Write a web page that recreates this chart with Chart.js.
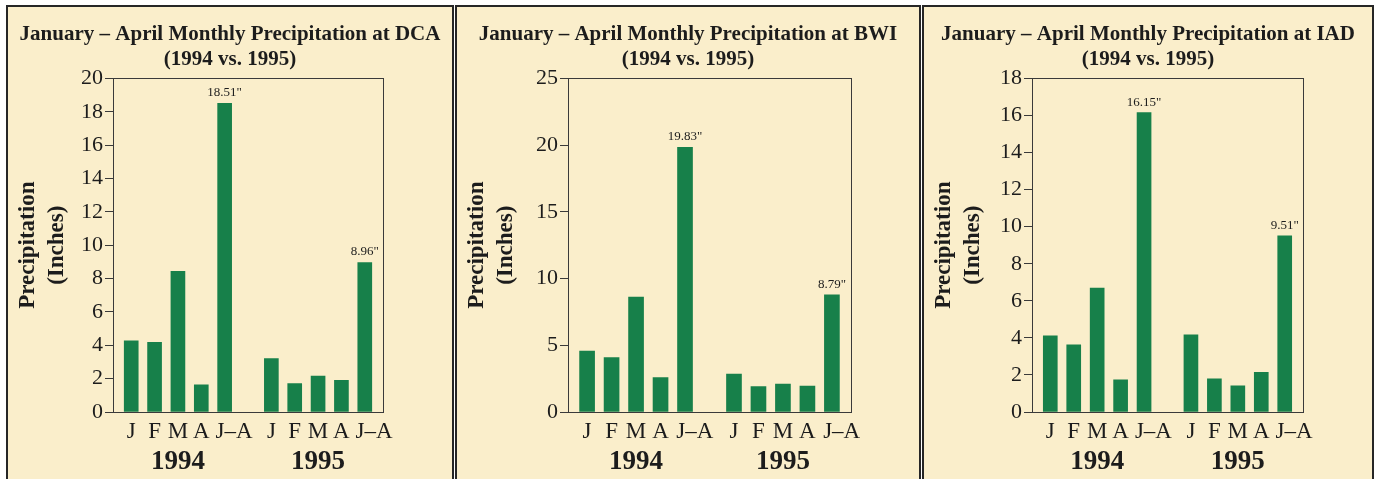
<!DOCTYPE html>
<html>
<head>
<meta charset="utf-8">
<script src="https://cdn.jsdelivr.net/npm/chart.js"></script>
<style>
  html, body { margin: 0; padding: 0; background: #ffffff; }
  body { width: 1374px; height: 479px; position: relative; overflow: hidden; }
  .panel { position: absolute; top: 5px; height: 480px; box-sizing: border-box;
           border: 2px solid #262626; background: #faeecb; }
  .panel canvas { position: absolute; left: 0; top: 0; }
</style>
</head>
<body>
<div class="panel" id="p0"><canvas id="c0"></canvas></div>
<div class="panel" id="p1"><canvas id="c1"></canvas></div>
<div class="panel" id="p2"><canvas id="c2"></canvas></div>

<script>
// categories
const months = ['J', 'F', 'M', 'A', 'J–A'];
const years = ['1994', '1995'];
const stations = ['DCA', 'BWI', 'IAD'];

// precipitation in inches, Jan, Feb, Mar, Apr, Jan-Apr total
const dca1994 = [4.27, 4.18, 8.43, 1.63, 18.51];
const dca1995 = [3.20, 1.70, 2.15, 1.90, 8.96];
const bwi1994 = [4.56, 4.07, 8.62, 2.58, 19.83];
const bwi1995 = [2.85, 1.90, 2.10, 1.94, 8.79];
const iad1994 = [4.11, 3.63, 6.68, 1.74, 16.15];
const iad1995 = [4.17, 1.79, 1.41, 2.14, 9.51];

// y axis ticks
const yTickMax = [20, 25, 18];
const yTickStep = [2, 5, 2];

const seriesByStation = [[dca1994, dca1995], [bwi1994, bwi1995], [iad1994, iad1995]];

// panel placement (page px) and plot box inside each canvas
const panels = [
  { left: 6,   width: 448, plotLeft: 105, plotRight: 375 },
  { left: 455, width: 466, plotLeft: 111, plotRight: 394 },
  { left: 922, width: 452, plotLeft: 108, plotRight: 379 }
];

const serif = "'Liberation Serif', 'Times New Roman', serif";
const ink = '#1c1c1c';
const barGreen = '#17804a';

// box round the plot area
const frame = {
  id: 'frame',
  afterDraw(chart) {
    const a = chart.chartArea, ctx = chart.ctx;
    ctx.save();
    ctx.strokeStyle = '#3a3a3a';
    ctx.lineWidth = 1;
    ctx.strokeRect(Math.round(a.left) + 0.5, Math.round(a.top) + 0.5,
                   Math.round(a.right - a.left), Math.round(a.bottom - a.top));
    ctx.restore();
  }
};

// value labels over the Jan-Apr totals
const totals = {
  id: 'totals',
  afterDatasetsDraw(chart) {
    const ctx = chart.ctx;
    const meta = chart.getDatasetMeta(0);
    ctx.save();
    ctx.font = '13px ' + serif;
    ctx.fillStyle = ink;
    ctx.textAlign = 'center';
    ctx.textBaseline = 'bottom';
    meta.data.forEach((bar, i) => {
      const pt = chart.data.datasets[0].data[i];
      if (pt.x % 6 === 4) {
        ctx.fillText(pt.y.toFixed(2) + '"', bar.x, bar.y - 4);
      }
    });
    ctx.restore();
  }
};

stations.forEach((st, k) => {
  const pan = panels[k];
  const panelEl = document.getElementById('p' + k);
  panelEl.style.left = pan.left + 'px';
  panelEl.style.width = pan.width + 'px';

  const canvas = document.getElementById('c' + k);
  const cw = pan.width - 4, ch = 476;
  canvas.width = cw; canvas.height = ch;
  canvas.style.width = cw + 'px'; canvas.style.height = ch + 'px';

  const points = [];
  seriesByStation[k].forEach((vals, yi) => {
    vals.forEach((v, mi) => points.push({ x: yi * 6 + mi, y: v }));
  });
  // the J–A label sits a little right of its bar, as in the print
  const monthTicks = points.map(p => (p.x % 6 === 4 ? p.x + 0.4 : p.x));
  const yearTicks = years.map((y, yi) => yi * 6 + 2);

  new Chart(canvas, {
    type: 'bar',
    data: {
      datasets: [{
        data: points,
        backgroundColor: barGreen,
        borderWidth: 0,
        barThickness: k === 1 ? 15 : 14
      }]
    },
    options: {
      responsive: false,
      animation: false,
      events: [],
      layout: { padding: { left: 0, right: 0, top: 0, bottom: 2 } },
      plugins: {
        legend: { display: false },
        tooltip: { enabled: false },
        title: {
          display: true,
          text: ['January – April Monthly Precipitation at ' + st, '(1994 vs. 1995)'],
          color: ink,
          font: { family: serif, size: 21, weight: 'bold', lineHeight: 1.2 },
          padding: { top: 15, bottom: 6 }
        }
      },
      scales: {
        x: {
          type: 'linear',
          offset: false,
          min: -0.78,
          max: 10.78,
          weight: 0,
          afterFit: s => { s.height = 34; },
          afterBuildTicks: s => { s.ticks = monthTicks.map(v => ({ value: v })); },
          grid: { display: false, drawTicks: false },
          border: { display: true, color: '#3a3a3a' },
          ticks: {
            autoSkip: false, maxRotation: 0, padding: 6,
            color: ink,
            font: { family: serif, size: 23 },
            callback: v => months[Math.floor(v) % 6]
          }
        },
        x2: {
          type: 'linear',
          position: 'bottom',
          offset: false,
          min: -0.78,
          max: 10.78,
          weight: 1,
          afterFit: s => { s.height = 35; },
          afterBuildTicks: s => { s.ticks = yearTicks.map(v => ({ value: v })); },
          grid: { display: false, drawTicks: false },
          border: { display: false },
          ticks: {
            autoSkip: false, maxRotation: 0, padding: 0,
            color: ink,
            font: { family: serif, size: 27, weight: 'bold' },
            callback: v => years[Math.round((v - 2) / 6)]
          }
        },
        y: {
          min: 0,
          max: yTickMax[k],
          afterFit: s => { s.width = pan.plotLeft; },
          grid: { drawOnChartArea: false, drawTicks: true, tickLength: 8, color: '#3a3a3a' },
          border: { display: true, color: '#3a3a3a' },
          ticks: {
            stepSize: yTickStep[k], padding: 2,
            color: ink,
            font: { family: serif, size: 22 }
          },
          title: {
            display: true,
            text: ['Precipitation', '(Inches)'],
            color: ink,
            font: { family: serif, size: 23, weight: 'bold', lineHeight: 1.25 },
            padding: { top: 6, bottom: 0 }
          }
        },
        // empty strip on the right of the plot
        yPad: {
          position: 'right',
          display: true,
          afterFit: s => { s.width = cw - pan.plotRight; },
          grid: { display: false },
          border: { display: false },
          ticks: { display: false }
        }
      }
    },
    plugins: [frame, totals]
  });
});
</script>
</body>
</html>
